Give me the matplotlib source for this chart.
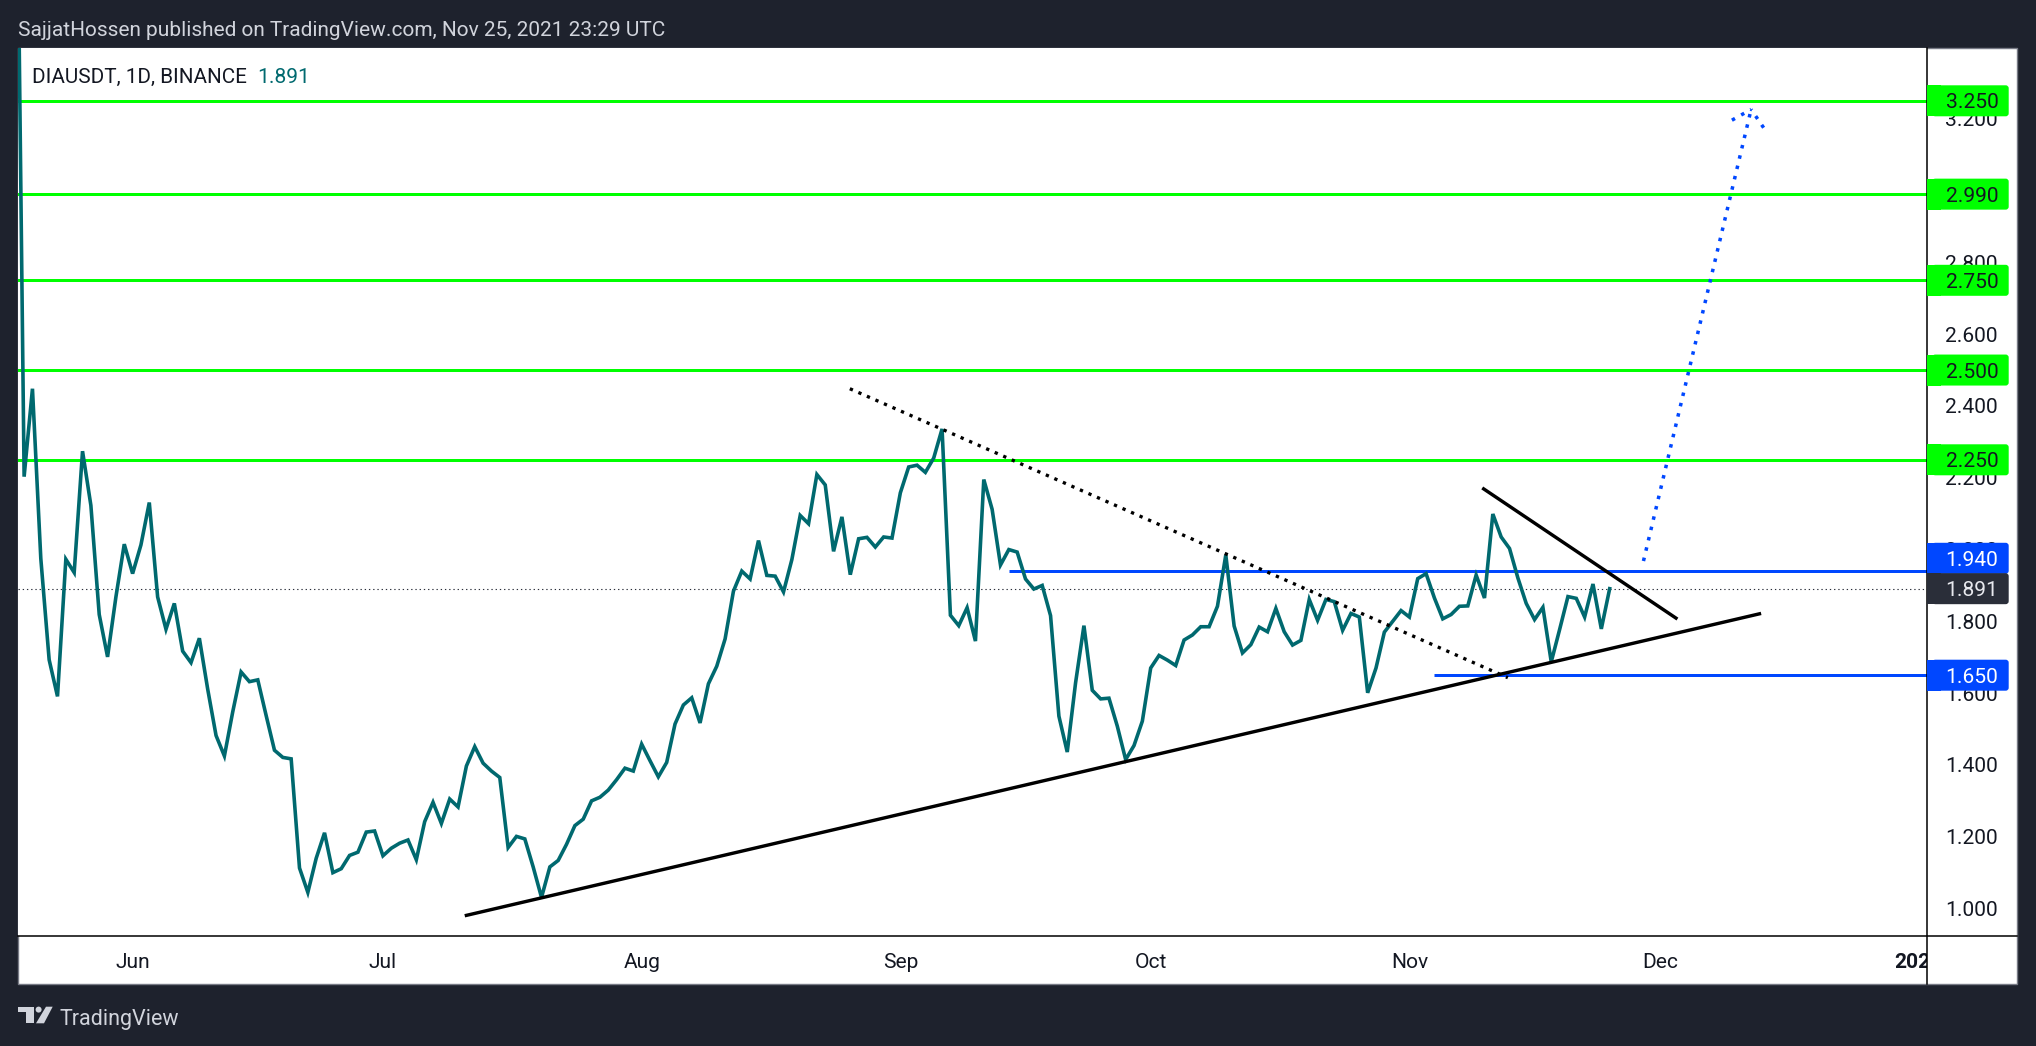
import matplotlib
matplotlib.use("Agg")
import matplotlib.pyplot as plt
import matplotlib.dates as mdates
import pandas as pd
from matplotlib.patches import Rectangle, FancyBboxPatch, Circle, Polygon
from matplotlib.lines import Line2D
from matplotlib.transforms import IdentityTransform, Bbox

W, H = 2036, 1046
BG = "#1E222D"
TEAL = "#00696F"
GREEN = "#00FF00"
BLUE = "#0047FF"
TXT = "#131722"
LIGHT = "#D1D4DC"
FS = 15.1
FS_HEAD = 15.0

first_date = "2021-05-18"
prices = [
    4.25, 2.203, 2.448, 1.975, 1.693, 1.591, 1.973, 1.936, 2.274, 2.123,
    1.819, 1.701, 1.868, 2.015, 1.933, 2.013, 2.131, 1.868, 1.778, 1.850,
    1.717, 1.685, 1.753, 1.611, 1.482, 1.425, 1.548, 1.659, 1.632, 1.637,
    1.538, 1.441, 1.421, 1.417, 1.113, 1.045, 1.140, 1.211, 1.100, 1.111,
    1.148, 1.157, 1.213, 1.216, 1.147, 1.168, 1.182, 1.191, 1.136, 1.242,
    1.296, 1.237, 1.305, 1.283, 1.397, 1.451, 1.405, 1.383, 1.365, 1.170,
    1.201, 1.194, 1.116, 1.031, 1.116, 1.134, 1.179, 1.231, 1.249, 1.300,
    1.310, 1.330, 1.359, 1.391, 1.383, 1.458, 1.412, 1.367, 1.407, 1.514,
    1.567, 1.587, 1.517, 1.626, 1.675, 1.751, 1.884, 1.940, 1.918, 2.025,
    1.928, 1.926, 1.882, 1.972, 2.095, 2.072, 2.209, 2.180, 1.995, 2.091,
    1.930, 2.030, 2.034, 2.007, 2.035, 2.032, 2.158, 2.230, 2.235, 2.215,
    2.255, 2.336, 1.817, 1.788, 1.838, 1.745, 2.195, 2.112, 1.957, 2.000,
    1.993, 1.918, 1.890, 1.900, 1.816, 1.536, 1.436, 1.629, 1.788, 1.608,
    1.584, 1.586, 1.508, 1.415, 1.454, 1.522, 1.670, 1.705, 1.692, 1.677,
    1.748, 1.762, 1.785, 1.785, 1.842, 1.985, 1.787, 1.712, 1.735, 1.784,
    1.771, 1.836, 1.771, 1.734, 1.747, 1.861, 1.803, 1.861, 1.855, 1.775,
    1.822, 1.812, 1.601, 1.670, 1.770, 1.800, 1.830, 1.812, 1.919, 1.933,
    1.865, 1.807, 1.819, 1.842, 1.843, 1.929, 1.865, 2.099, 2.035, 2.003,
    1.921, 1.850, 1.805, 1.839, 1.687, 1.777, 1.869, 1.864, 1.812, 1.904,
    1.779, 1.891,
]
last_price = 1.891

green_levels = [3.25, 2.99, 2.75, 2.50, 2.25]
green_labels = ["3.250", "2.990", "2.750", "2.500", "2.250"]
blue_levels = [1.94, 1.65]
blue_labels = ["1.940", "1.650"]
blue_starts = [105.0, 155.9]  # days after 1 Jun

price_ticks = [1.0, 1.2, 1.4, 1.6, 1.8, 2.0, 2.2, 2.4, 2.6, 2.8, 3.0, 3.2]
month_dates = ["2021-06-01", "2021-07-01", "2021-08-01", "2021-09-01",
               "2021-10-01", "2021-11-01", "2021-12-01", "2022-01-01"]
month_labels = ["Jun", "Jul", "Aug", "Sep", "Oct", "Nov", "Dec", "2022"]

# drawings: days after 1 Jun, price
rise_x, rise_y = [40.0, 194.95], [0.981, 1.821]
fall_x, fall_y = [161.9, 184.95], [2.169, 1.809]
dot_x, dot_y = [85.95, 164.8], [2.448, 1.643]
arrow_x, arrow_y = [181.05, 193.95], [1.968, 3.226]
head1_x, head1_y = [191.65, 193.95], [3.196, 3.226]
head2_x, head2_y = [195.45, 193.95], [3.175, 3.226]

# pixel layout
LEFT, RIGHT, AX_R = 18, 2017.3, 1927.3
TOP, BOT, T_BOT = 48, 936, 984

plt.rcParams["font.family"] = ["Roboto", "DejaVu Sans"]
fig = plt.figure(figsize=(W / 100, H / 100), dpi=100, facecolor=BG)


def fx(px):
    return px / W


def fy(py):
    return 1 - py / H


fig.add_artist(Rectangle((fx(LEFT), fy(T_BOT)), fx(RIGHT - LEFT), (T_BOT - TOP) / H,
                         transform=fig.transFigure, facecolor="white",
                         edgecolor="#787B86", linewidth=1, zorder=-2))

ax = fig.add_axes([fx(LEFT), fy(BOT), fx(AX_R - LEFT), (BOT - TOP) / H], zorder=1)
ax.set_facecolor("white")
for s in ax.spines.values():
    s.set_visible(False)

jun1 = mdates.date2num(pd.Timestamp("2021-06-01"))
dates = mdates.date2num(pd.date_range(first_date, periods=len(prices), freq="D"))

PX_PER_DAY = 8.345
ax.set_xlim(jun1 + (LEFT - 132.6) / PX_PER_DAY, jun1 + (AX_R - 132.6) / PX_PER_DAY)
PX_PER_UNIT = 359.0
ANCHOR = 459.8
ax.set_ylim(2.25 - (BOT - ANCHOR) / PX_PER_UNIT, 2.25 + (ANCHOR - TOP) / PX_PER_UNIT)


def px(v):
    return v * 0.72


for lv in green_levels:
    ax.axhline(lv, color=GREEN, lw=px(3), zorder=2)
ax.axhline(last_price, color="#2A2E39", lw=0.8, ls=(0, (1.2, 2.6)), zorder=2)
x_end = ax.get_xlim()[1]
for lv, st in zip(blue_levels, blue_starts):
    ax.plot([jun1 + st, x_end], [lv, lv], color=BLUE, lw=px(3), zorder=2, solid_capstyle="butt")

ax.plot(dates, prices, color=TEAL, lw=px(3.6), zorder=3, solid_joinstyle="miter")

ax.plot([jun1 + v for v in rise_x], rise_y, color="black", lw=px(3.4), zorder=4)
ax.plot([jun1 + v for v in fall_x], fall_y, color="black", lw=px(3.4), zorder=4)
ax.plot([jun1 + v for v in dot_x], dot_y, color="black", lw=px(3.3),
        ls=(0, (1, 1.82)), zorder=4, dash_capstyle="butt")
for xs, ys in [(arrow_x, arrow_y), (head1_x, head1_y), (head2_x, head2_y)]:
    ax.plot([jun1 + v for v in xs], ys, color=BLUE, lw=px(3.5),
            ls=(0, (1, 2.03)), zorder=4, dash_capstyle="butt")

# axes ticks
ax.yaxis.tick_right()
ax.set_yticks(price_ticks)
ax.set_yticklabels([f"{v:.3f}" for v in price_ticks], fontsize=FS, color=TXT)
ax.tick_params(axis="y", length=0, pad=12.6)
ax.set_xticks(mdates.date2num(pd.to_datetime(month_dates)))
ax.set_xticklabels(month_labels, fontsize=FS, color=TXT)
ax.tick_params(axis="x", length=0, pad=12.2)
year_lab = ax.get_xticklabels()[-1]
year_lab.set_fontweight("bold")

fig.canvas.draw()
clip = Bbox([[0, 0], [AX_R, H]])
for lab in ax.get_xticklabels():
    lab.set_clip_box(clip)
    lab.set_clip_on(True)

# frame lines
fig.add_artist(Line2D([fx(AX_R), fx(AX_R)], [fy(TOP), fy(T_BOT)], color="black", lw=1.1, zorder=3))
fig.add_artist(Line2D([fx(LEFT), fx(RIGHT)], [fy(BOT), fy(BOT)], color="black", lw=1.1, zorder=3))


def price_label(level, text, bg, fg, shift=0):
    yc = ax.transData.transform((0, level))[1] + shift
    h = 31
    x0, x1 = AX_R, 2008.7
    r = 3
    t = IdentityTransform()
    fig.add_artist(FancyBboxPatch((x0 + 8, yc - h / 2 + r), x1 - x0 - 8 - r, h - 2 * r,
                                  boxstyle=f"round,pad={r},rounding_size={r}",
                                  transform=t, facecolor=bg, edgecolor="none", zorder=4))
    fig.add_artist(Rectangle((x0, yc - h / 2), 14, h, transform=t,
                             facecolor=bg, edgecolor="none", zorder=4))
    fig.text((x0 + 18.3) / W, yc / H, text, color=fg, fontsize=FS, va="center_baseline",
             ha="left", zorder=5)


for lv, lb in zip(green_levels, green_labels):
    price_label(lv, lb, GREEN, TXT)
price_label(blue_levels[0], blue_labels[0], BLUE, "white", shift=12.8)
price_label(blue_levels[1], blue_labels[1], BLUE, "white")
price_label(last_price, f"{last_price:.3f}", "#2A2E39", "#E8E9EE")

# header / legend
fig.text(fx(18), fy(28), "SajjatHossen published on TradingView.com, Nov 25, 2021 23:29 UTC",
         color=LIGHT, fontsize=FS_HEAD, va="center_baseline", ha="left")
fig.text(fx(32), fy(75.5), "DIAUSDT, 1D, BINANCE", color=TXT, fontsize=14.9,
         va="center_baseline", ha="left", zorder=5)
fig.text(fx(257), fy(75.5), f"{last_price:.3f}", color=TEAL, fontsize=FS,
         va="center_baseline", ha="left", zorder=5)

# footer logo
t = fig.transFigure


def P(pts):
    return [(fx(a), fy(b)) for a, b in pts]


fig.add_artist(Polygon(P([(18.3, 1006.7), (34, 1006.7), (34, 1023.3), (25.7, 1023.3), (25.7, 1012.3), (18.3, 1012.3)]),
                       closed=True, transform=t, facecolor=LIGHT, edgecolor="none"))
fig.add_artist(Polygon(P([(46, 1006.7), (52.7, 1006.7), (44, 1023.3), (36, 1023.3)]),
                       closed=True, transform=t, facecolor=LIGHT, edgecolor="none"))
fig.add_artist(Circle((38.6, H - 1009.6), 3.0, transform=IdentityTransform(),
                      facecolor=LIGHT, edgecolor="none"))
fig.text(fx(59), fy(1016.5), "TradingView", color=LIGHT, fontsize=FS + 0.4,
         va="center_baseline", ha="left")

fig.savefig("out.png", dpi=100, facecolor=BG)
